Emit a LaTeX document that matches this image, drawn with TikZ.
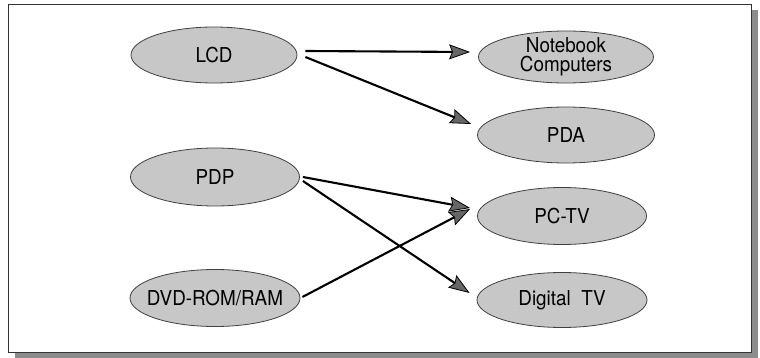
\documentclass[tikz,border=0pt]{standalone}
\usepackage{fontspec}
\setmainfont{TeX Gyre Heros}[FakeStretch=0.92]
\usetikzlibrary{shapes.geometric,arrows.meta,calc}
\begin{document}
\begin{tikzpicture}[x=1pt,y=-1pt,
  oval/.style={ellipse,draw=black!75,line width=0.8pt,fill=black!22,
    inner xsep=-30pt,inner ysep=-10pt,font=\fontsize{20.5}{18.5}\selectfont,align=center},
  link/.style={line width=2.1pt,
    -{Stealth[length=21pt,width=15pt,inset=3pt,fill=black!60,line width=0.8pt]}}]
  \useasboundingbox (0,0) rectangle (760,358);
  % frame with drop shadow
  \fill[black!45] (15,10) rectangle (758,358);
  \draw[fill=white,draw=black!80,line width=0.8pt] (8,4) rectangle (751,352);
  % technologies
  \node[oval,minimum width=166pt,minimum height=56pt] (lcd) at (214,55) {LCD};
  \node[oval,minimum width=169pt,minimum height=58pt] (pdp) at (215,177) {PDP};
  \node[oval,minimum width=170pt,minimum height=57pt] (dvd) at (215,298) {DVD-ROM/RAM};
  % products
  \node[oval,minimum width=175pt,minimum height=52pt] (nb) at (566,57) {Notebook\\Computers};
  \node[oval,minimum width=177pt,minimum height=56pt] (pda) at (566,135) {PDA};
  \node[oval,minimum width=169pt,minimum height=57pt] (pctv) at (562,216) {PC-TV};
  \node[oval,minimum width=170pt,minimum height=55pt] (dtv) at (562,300) {Digital\ \ TV};
  % connections
  \draw[link] ($(lcd.east)+(8,-4)$) -- ($(nb.west)+(-8,-5)$);
  \draw[link] ($(lcd.east)+(8,2)$) -- ($(pda.west)+(-6,-11)$);
  \draw[link] ($(pdp.east)+(3,0)$) -- ($(pctv.west)+(-7,-8)$);
  \draw[link] ($(pdp.east)+(3,4)$) -- ($(dtv.west)+(-7,-7)$);
  \draw[link] ($(dvd.east)+(2,-1)$) -- ($(pctv.west)+(-7,-7)$);
\end{tikzpicture}
\end{document}
